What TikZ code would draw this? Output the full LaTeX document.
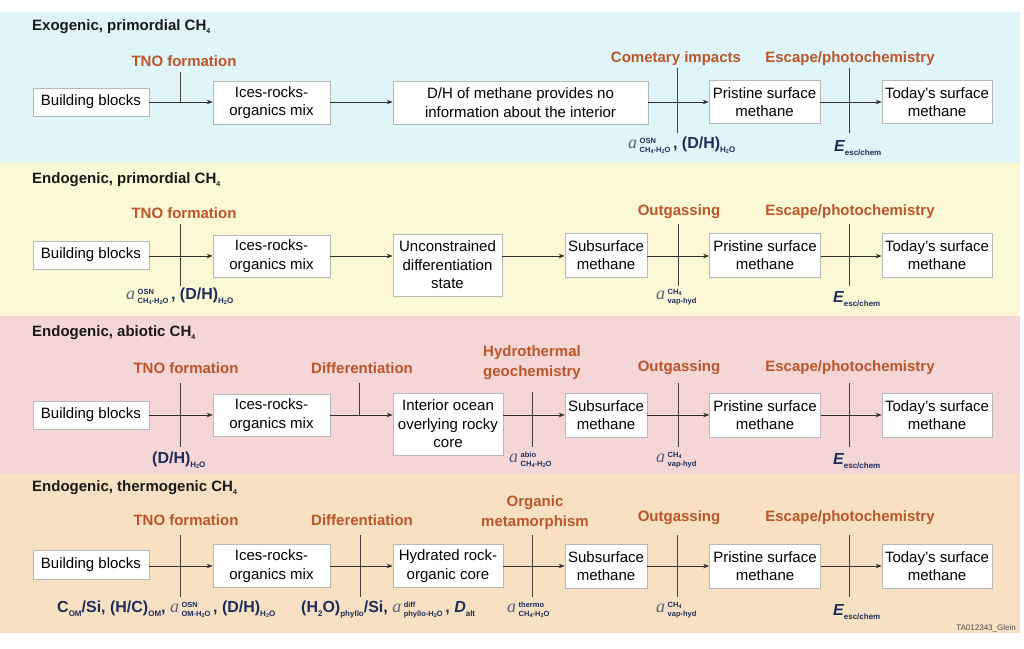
\documentclass[tikz,border=0pt]{standalone}
\usepackage{fontspec}
\setmainfont{Liberation Sans}
\newfontfamily\serifa{Liberation Serif}
\usetikzlibrary{arrows.meta}
\definecolor{bgcyan}{HTML}{DFF5F8}
\definecolor{bgyellow}{HTML}{FBF8D6}
\definecolor{bgpink}{HTML}{F4D6D6}
\definecolor{bgtan}{HTML}{F8E1C2}
\definecolor{procorange}{HTML}{BC5529}
\definecolor{parblue}{HTML}{1E2D5C}
\definecolor{agray}{HTML}{5A6480}
\definecolor{linecol}{HTML}{4A3E3A}
\definecolor{arrcol}{HTML}{2E2E2E}
\newcommand\dn[1]{\raisebox{-1pt}{\fontsize{5.5}{5.5}\selectfont\bfseries #1}}
\newcommand\dnb[1]{\raisebox{-3.5pt}{\fontsize{8}{9}\selectfont\bfseries #1}}
\newcommand\subfour{\raisebox{-2.5pt}{\fontsize{7}{7}\selectfont\bfseries 4}}
\newcommand\av[2]{{\serifa\itshape\mdseries\color{agray}\fontsize{18}{18}\selectfont a}\kern2.5pt\raisebox{-3.5pt}{\fontsize{7.5}{9}\selectfont\bfseries\begin{tabular}[b]{@{}l@{}}#1\\#2\end{tabular}}}
\newcommand\Ev{{\bfseries\itshape E}\dnb{esc/chem}}
\newcommand\DHw{(D/H)\dnb{H\dn{2}O}}
\tikzset{
  box/.style={draw=black!28, fill=white, align=center, inner sep=0pt, line width=0.6pt,
    font=\fontsize{15}{18.5}\selectfont},
  proc/.style={text=procorange, font=\bfseries\fontsize{15}{20}\selectfont, align=center, inner sep=0pt},
  ttl/.style={font=\bfseries\fontsize{15}{18}\selectfont, anchor=west, inner sep=0pt, text=black!90},
  arr/.style={-{Stealth[length=6pt,width=4.5pt]}, line width=0.9pt, draw=arrcol},
  vline/.style={line width=0.9pt, draw=linecol},
  par/.style={text=parblue, anchor=west, inner sep=0pt, font=\bfseries\fontsize{16}{18}\selectfont},
}
\begin{document}
\begin{tikzpicture}[x=1pt,y=-1pt]
\useasboundingbox (0,0) rectangle (1024,648);
\fill[white] (0,0) rectangle (1024,648);
% bands
\fill[bgcyan] (0,12) rectangle (1020,163);
\fill[bgyellow] (0,163) rectangle (1020,316);
\fill[bgpink] (0,316) rectangle (1020,474);
\fill[bgtan] (0,474) rectangle (1020,633);

% ================= Row 1 =================
\coordinate (r1) at (0,102);
\node[ttl] (t1) at (32,27) {Exogenic, primordial CH\subfour};
\node[box,minimum width=116pt,minimum height=28pt] (bb1) at (91,102) {Building blocks};
\node[box,minimum width=117pt,minimum height=43pt] (ice1) at (271.5,102.5) {Ices-rocks-\\organics mix};
\node[box,minimum width=255pt,minimum height=43pt] (dh1) at (520.5,102.5) {D/H of methane provides no\\information about the interior};
\node[box,minimum width=111pt,minimum height=43pt] (pr1) at (764.5,102) {Pristine surface\\methane};
\node[box,minimum width=110pt,minimum height=43pt] (td1) at (937,102) {Today’s surface\\methane};
\draw[arr] (bb1.east |- r1) -- (ice1.west |- r1);
\draw[arr] (ice1.east |- r1) -- (dh1.west |- r1);
\draw[arr] (dh1.east |- r1) -- (pr1.west |- r1);
\draw[arr] (pr1.east |- r1) -- (td1.west |- r1);
\node[proc] (p1a) at (184,61) {TNO formation};
\node[proc] (p1b) at (676,59) {Cometary impacts};
\node[proc] (p1c) at (850,59) {Escape/photochemistry};
\coordinate (l1at) at (180,72); \coordinate (l1ab) at (180,102);
\coordinate (l1bt) at (677,68); \coordinate (l1bb) at (677,133);
\coordinate (l1ct) at (849,68); \coordinate (l1cb) at (849,133);
\draw[vline] (l1at) -- (l1ab);
\draw[vline] (l1bt) -- (l1bb);
\draw[vline] (l1ct) -- (l1cb);
\node[par] (q1a) at (628,146) {\av{OSN}{CH\dn{4}-H\dn{2}O}\,, \DHw};
\node[par] (q1b) at (834,148) {\Ev};

% ================= Row 2 =================
\coordinate (r2) at (0,256);
\node[ttl] (t2) at (32,180) {Endogenic, primordial CH\subfour};
\node[box,minimum width=116pt,minimum height=28pt] (bb2) at (91,255) {Building blocks};
\node[box,minimum width=117pt,minimum height=42pt] (ice2) at (271.5,256) {Ices-rocks-\\organics mix};
\node[box,minimum width=109pt,minimum height=62pt] (un2) at (447.5,265) {Unconstrained\\differentiation\\state};
\node[box,minimum width=82pt,minimum height=44pt] (ss2) at (606,255) {Subsurface\\methane};
\node[box,minimum width=111pt,minimum height=44pt] (pr2) at (765,255) {Pristine surface\\methane};
\node[box,minimum width=110pt,minimum height=44pt] (td2) at (937,255) {Today’s surface\\methane};
\draw[arr] (bb2.east |- r2) -- (ice2.west |- r2);
\draw[arr] (ice2.east |- r2) -- (un2.west |- r2);
\draw[arr] (un2.east |- r2) -- (ss2.west |- r2);
\draw[arr] (ss2.east |- r2) -- (pr2.west |- r2);
\draw[arr] (pr2.east |- r2) -- (td2.west |- r2);
\node[proc] (p2a) at (184,213) {TNO formation};
\node[proc] (p2b) at (679,212) {Outgassing};
\node[proc] (p2c) at (850,212) {Escape/photochemistry};
\coordinate (l2at) at (180,224); \coordinate (l2ab) at (180,286);
\coordinate (l2bt) at (678,224); \coordinate (l2bb) at (678,286);
\coordinate (l2ct) at (849,224); \coordinate (l2cb) at (849,286);
\draw[vline] (l2at) -- (l2ab);
\draw[vline] (l2bt) -- (l2bb);
\draw[vline] (l2ct) -- (l2cb);
\node[par] (q2a) at (126,297) {\av{OSN}{CH\dn{4}-H\dn{2}O}\,, \DHw};
\node[par] (q2b) at (656,297) {\av{CH\dn{4}}{vap-hyd}};
\node[par] (q2c) at (833,299) {\Ev};

% ================= Row 3 =================
\coordinate (r3) at (0,415);
\node[ttl] (t3) at (32,333) {Endogenic, abiotic CH\subfour};
\node[box,minimum width=116pt,minimum height=28pt] (bb3) at (91,415) {Building blocks};
\node[box,minimum width=117pt,minimum height=42pt] (ice3) at (271.5,415) {Ices-rocks-\\organics mix};
\node[box,minimum width=110pt,minimum height=62pt] (io3) at (448,424) {Interior ocean\\overlying rocky\\core};
\node[box,minimum width=82pt,minimum height=44pt] (ss3) at (606,415) {Subsurface\\methane};
\node[box,minimum width=111pt,minimum height=44pt] (pr3) at (765,415) {Pristine surface\\methane};
\node[box,minimum width=110pt,minimum height=44pt] (td3) at (937,415) {Today’s surface\\methane};
\draw[arr] (bb3.east |- r3) -- (ice3.west |- r3);
\draw[arr] (ice3.east |- r3) -- (io3.west |- r3);
\draw[arr] (io3.east |- r3) -- (ss3.west |- r3);
\draw[arr] (ss3.east |- r3) -- (pr3.west |- r3);
\draw[arr] (pr3.east |- r3) -- (td3.west |- r3);
\node[proc] (p3a) at (186,368) {TNO formation};
\node[proc] (p3b) at (362,368) {Differentiation};
\node[proc] (p3c) at (532,363) {Hydrothermal\\geochemistry};
\node[proc] (p3d) at (679,368) {Outgassing};
\node[proc] (p3e) at (850,368) {Escape/photochemistry};
\coordinate (l3at) at (180,383); \coordinate (l3ab) at (180,447);
\coordinate (l3bt) at (359,383); \coordinate (l3bb) at (359,415);
\coordinate (l3ct) at (532,392); \coordinate (l3cb) at (532,447);
\coordinate (l3dt) at (678,383); \coordinate (l3db) at (678,447);
\coordinate (l3et) at (849,383); \coordinate (l3eb) at (849,447);
\draw[vline] (l3at) -- (l3ab);
\draw[vline] (l3bt) -- (l3bb);
\draw[vline] (l3ct) -- (l3cb);
\draw[vline] (l3dt) -- (l3db);
\draw[vline] (l3et) -- (l3eb);
\node[par] (q3a) at (152,460) {\DHw};
\node[par] (q3b) at (509,460) {\av{abio}{CH\dn{4}-H\dn{2}O}};
\node[par] (q3c) at (656,460) {\av{CH\dn{4}}{vap-hyd}};
\node[par] (q3d) at (833,461) {\Ev};

% ================= Row 4 =================
\coordinate (r4) at (0,566);
\node[ttl] (t4) at (32,488) {Endogenic, thermogenic CH\subfour};
\node[box,minimum width=116pt,minimum height=29pt] (bb4) at (91,565) {Building blocks};
\node[box,minimum width=117pt,minimum height=43pt] (ice4) at (271.5,566) {Ices-rocks-\\organics mix};
\node[box,minimum width=110pt,minimum height=43pt] (hy4) at (448,566) {Hydrated rock-\\organic core};
\node[box,minimum width=82pt,minimum height=44pt] (ss4) at (606,566) {Subsurface\\methane};
\node[box,minimum width=111pt,minimum height=44pt] (pr4) at (765,566) {Pristine surface\\methane};
\node[box,minimum width=110pt,minimum height=44pt] (td4) at (937,566) {Today’s surface\\methane};
\draw[arr] (bb4.east |- r4) -- (ice4.west |- r4);
\draw[arr] (ice4.east |- r4) -- (hy4.west |- r4);
\draw[arr] (hy4.east |- r4) -- (ss4.west |- r4);
\draw[arr] (ss4.east |- r4) -- (pr4.west |- r4);
\draw[arr] (pr4.east |- r4) -- (td4.west |- r4);
\node[proc] (p4a) at (186,520) {TNO formation};
\node[proc] (p4b) at (362,520) {Differentiation};
\node[proc] (p4c) at (535,513) {Organic\\metamorphism};
\node[proc] (p4d) at (679,518) {Outgassing};
\node[proc] (p4e) at (850,518) {Escape/photochemistry};
\coordinate (l4at) at (180,535); \coordinate (l4ab) at (180,597);
\coordinate (l4bt) at (360,535); \coordinate (l4bb) at (360,597);
\coordinate (l4ct) at (532,535); \coordinate (l4cb) at (532,597);
\coordinate (l4dt) at (677,535); \coordinate (l4db) at (677,597);
\coordinate (l4et) at (849,535); \coordinate (l4eb) at (849,597);
\draw[vline] (l4at) -- (l4ab);
\draw[vline] (l4bt) -- (l4bb);
\draw[vline] (l4ct) -- (l4cb);
\draw[vline] (l4dt) -- (l4db);
\draw[vline] (l4et) -- (l4eb);
\node[par] (q4a) at (57,610) {C\dnb{OM}/Si, (H/C)\dnb{OM}, \av{OSN}{OM-H\dn{2}O}\,, \DHw};
\node[par] (q4b) at (301,610) {(H\dnb{2}O)\dnb{phyllo}/Si, \av{diff}{phyllo-H\dn{2}O}\,, {\itshape D}\dnb{alt}};
\node[par] (q4c) at (507,610) {\av{thermo}{CH\dn{4}-H\dn{2}O}};
\node[par] (q4d) at (656,610) {\av{CH\dn{4}}{vap-hyd}};
\node[par] (q4e) at (833,612) {\Ev};

\node[anchor=east, inner sep=0pt, font=\fontsize{8}{9}\selectfont, text=black!70] (cr) at (1016,628) {TA012343\_Glein};
\end{tikzpicture}
\end{document}
